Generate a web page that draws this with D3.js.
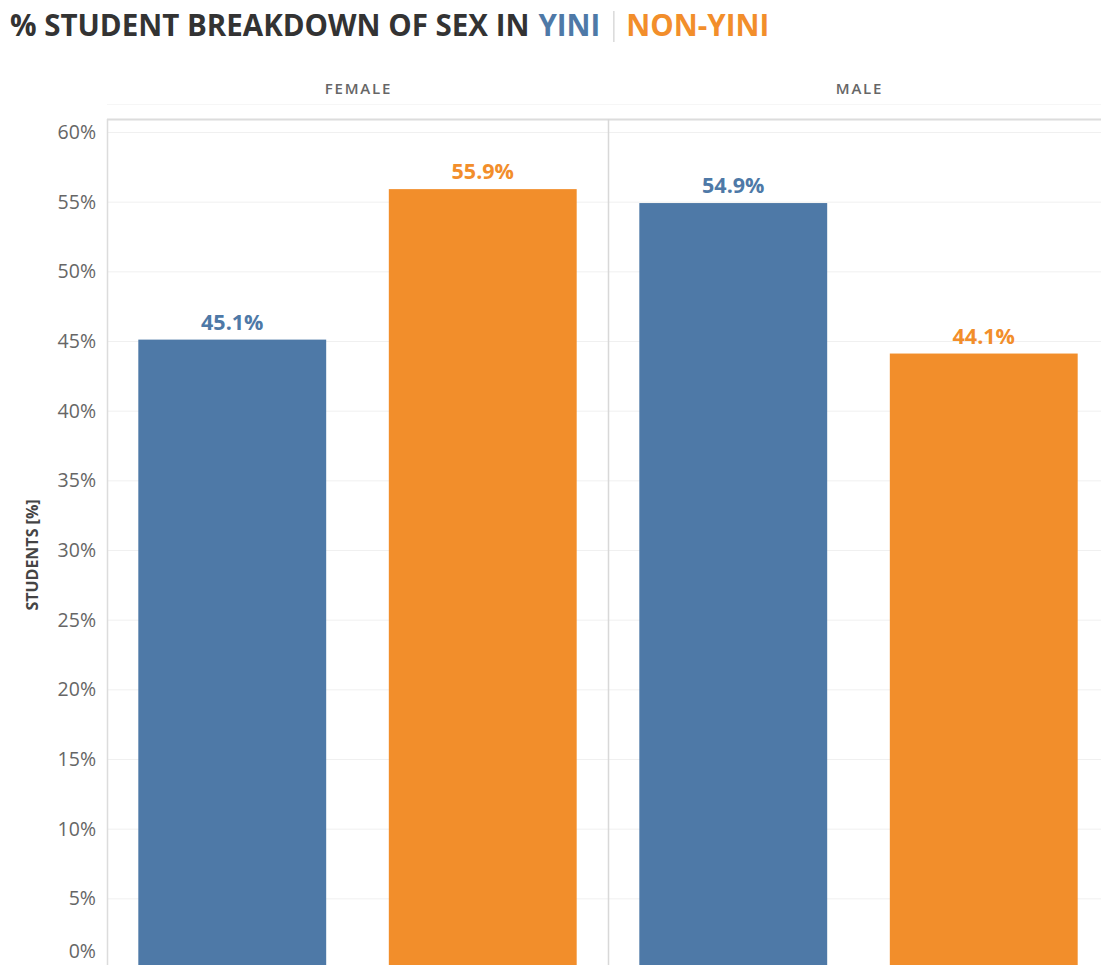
<!DOCTYPE html>
<html>
<head>
<meta charset="utf-8">
<script src="https://cdn.jsdelivr.net/npm/d3@7/dist/d3.min.js"></script>
<style>
  html, body { margin: 0; padding: 0; background: #fff; }
  svg { display: block; }
</style>
</head>
<body>
<svg id="chart" width="1101" height="965"></svg>
<script>
// Panels (sex) and bars inside each panel (group)
const sexes = ["FEMALE", "MALE"];
const groups = ["YINI", "NON-YINI"];
const yiniValues = [45.1, 54.9];
const nonYiniValues = [55.9, 44.1];
const yTicks = [0, 5, 10, 15, 20, 25, 30, 35, 40, 45, 50, 55, 60];

const colors = { "YINI": "#4e79a7", "NON-YINI": "#f28e2b" };
const FONT = "'Open Sans', 'Noto Sans', sans-serif";

const rows = [];
sexes.forEach((s, i) => {
  rows.push({ sex: s, group: "YINI", value: yiniValues[i] });
  rows.push({ sex: s, group: "NON-YINI", value: nonYiniValues[i] });
});

const W = 1101, H = 965;
const svg = d3.select("#chart");

const plotLeft = 107, plotTop = 119, panelW = 501;
const y = d3.scaleLinear().domain([0, 60]).range([968, 132]);

const xPanel = d3.scaleBand().domain(sexes).range([plotLeft, plotLeft + panelW * 2]);
const xInner = d3.scaleBand().domain(groups).range([0, panelW]).paddingInner(0.25).paddingOuter(0.125);

// Title: text followed by coloured legend words separated by a thin rule
const titleG = svg.append("g").attr("font-family", FONT).attr("font-weight", 700).attr("font-size", 29.5);
let cx = 10;
const addTitlePart = (txt, fill, gapAfter) => {
  const t = titleG.append("text").attr("x", cx).attr("y", 36).attr("fill", fill).text(txt);
  cx += t.node().getComputedTextLength() + gapAfter;
  return t;
};
addTitlePart("% STUDENT BREAKDOWN OF SEX IN", "#333", 9);
addTitlePart("YINI", colors["YINI"], 13);
titleG.append("line").attr("x1", cx + 0.5).attr("x2", cx + 0.5).attr("y1", 11).attr("y2", 42)
  .attr("stroke", "#d9d9d9").attr("stroke-width", 1.5);
cx += 13;
addTitlePart("NON-YINI", colors["NON-YINI"], 0);

// Gridlines
svg.append("g").selectAll("line").data(yTicks).join("line")
  .attr("x1", plotLeft).attr("x2", W)
  .attr("y1", d => y(d) + 0.5).attr("y2", d => y(d) + 0.5)
  .attr("stroke", "#f0f0f0").attr("stroke-width", 1);

// Header separators and plot frame
svg.append("line").attr("x1", plotLeft).attr("x2", W)
  .attr("y1", plotTop + 0.5).attr("y2", plotTop + 0.5)
  .attr("stroke", "#dcdcdc").attr("stroke-width", 2);
svg.append("line").attr("x1", plotLeft).attr("x2", W)
  .attr("y1", 104.5).attr("y2", 104.5)
  .attr("stroke", "#f6f6f6").attr("stroke-width", 1);
svg.append("line").attr("x1", plotLeft + 0.5).attr("x2", plotLeft + 0.5)
  .attr("y1", plotTop).attr("y2", H)
  .attr("stroke", "#dcdcdc").attr("stroke-width", 1.5);
svg.append("line")
  .attr("x1", xPanel("MALE") + 0.5).attr("x2", xPanel("MALE") + 0.5)
  .attr("y1", plotTop).attr("y2", H)
  .attr("stroke", "#d8d8d8").attr("stroke-width", 1.5);

// Panel headers
svg.append("g").selectAll("text").data(sexes).join("text")
  .attr("x", d => xPanel(d) + panelW / 2 + 1).attr("y", 94)
  .attr("text-anchor", "middle")
  .attr("font-family", FONT).attr("font-weight", 600)
  .attr("font-size", 15).attr("letter-spacing", 1.8).attr("fill", "#666")
  .text(d => d);

// Y axis
const yAxis = d3.axisLeft(y).tickValues(yTicks).tickFormat(d => d + "%").tickSize(0).tickPadding(0);
const gy = svg.append("g").attr("transform", `translate(${96},0)`).call(yAxis);
gy.select(".domain").remove();
// keep the lowest label inside the view
gy.selectAll(".tick").attr("transform", d => `translate(0,${Math.min(y(d), H - 14)})`);
gy.selectAll("text")
  .attr("font-family", FONT).attr("font-size", 19.5).attr("font-weight", 500)
  .attr("fill", "#666").attr("dy", "0.36em");

svg.append("text")
  .attr("transform", `translate(38,${555}) rotate(-90)`)
  .attr("text-anchor", "middle")
  .attr("font-family", FONT).attr("font-weight", 700)
  .attr("font-size", 16).attr("fill", "#444")
  .text("STUDENTS [%]");

// Bars
svg.append("g").selectAll("rect").data(rows).join("rect")
  .attr("x", d => xPanel(d.sex) + xInner(d.group))
  .attr("width", xInner.bandwidth())
  .attr("y", d => y(d.value))
  .attr("height", d => y(0) - y(d.value))
  .attr("fill", d => colors[d.group]);

// Value labels
svg.append("g").selectAll("text").data(rows).join("text")
  .attr("x", d => xPanel(d.sex) + xInner(d.group) + xInner.bandwidth() / 2)
  .attr("y", d => y(d.value) - 10)
  .attr("text-anchor", "middle")
  .attr("font-family", FONT).attr("font-weight", 700)
  .attr("font-size", 21.5).attr("fill", d => colors[d.group])
  .text(d => d.value.toFixed(1) + "%");
</script>
</body>
</html>
